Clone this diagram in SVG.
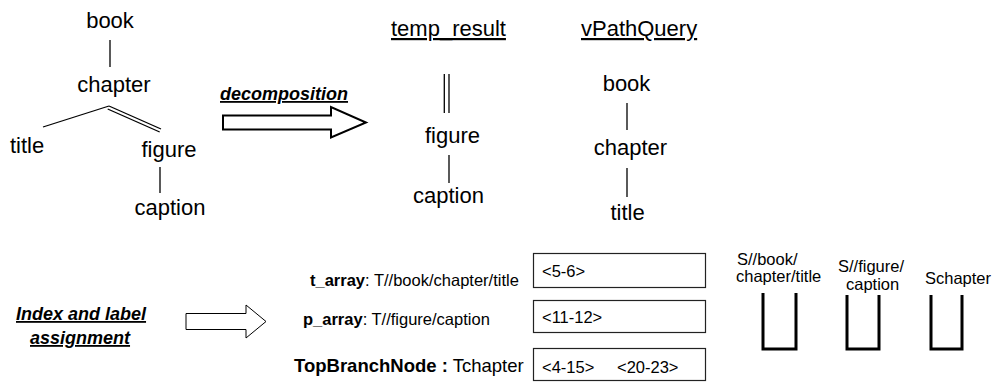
<svg xmlns="http://www.w3.org/2000/svg" width="995" height="382" viewBox="0 0 995 382">
  <style>
    text { font-family: "Liberation Sans", Arial, sans-serif; fill: #000; }
    .n { font-size: 22px; text-anchor: middle; }
    .hd { font-size: 22px; text-decoration: underline; }
    .bi { font-size: 18px; font-weight: bold; font-style: italic; text-decoration: underline; }
    .lbl { font-size: 16.5px; }
    .big { font-size: 18.5px; }
    .b { font-weight: bold; }
    .e { stroke: #000; stroke-width: 1.3; fill: none; }
    .box { fill: #fff; stroke: #222; stroke-width: 1.2; }
    .stack { fill: none; stroke: #000; stroke-width: 3; }
  </style>

  <!-- query tree -->
  <g id="query-tree">
    <text class="n" x="110" y="28">book</text>
    <text class="n" x="114" y="92">chapter</text>
    <text class="n" x="27" y="153">title</text>
    <text class="n" x="169" y="157">figure</text>
    <text class="n" x="170" y="215">caption</text>
  </g>

  <!-- edges -->
  <g id="connectors">
    <line class="e" x1="110" y1="40" x2="110" y2="67"/>
    <line class="e" x1="109" y1="106" x2="43" y2="127"/>
    <line class="e" x1="109" y1="106" x2="161" y2="129"/>
    <line class="e" x1="107.7" y1="109" x2="159.7" y2="132"/>
    <line class="e" x1="160" y1="167" x2="160" y2="193"/>
    <line class="e" x1="444.3" y1="74" x2="444.3" y2="113"/>
    <line class="e" x1="449" y1="74" x2="449" y2="113"/>
    <line class="e" x1="449" y1="155" x2="449" y2="183"/>
    <line class="e" x1="627" y1="103" x2="627" y2="130"/>
    <line class="e" x1="627" y1="168" x2="627" y2="197"/>
  </g>

  <!-- decomposition step -->
  <g id="decomposition">
    <text class="bi" x="220" y="100">decomposition</text>
    <polygon points="223,115.5 331,115.5 331,107 366,122.5 331,137.5 331,129.5 223,129.5" fill="#fff" stroke="#000" stroke-width="2"/>
  </g>

  <!-- temp_result -->
  <g id="temp-result">
    <text class="hd" x="391" y="36">temp_result</text>
    <text class="n" x="452.5" y="143">figure</text>
    <text class="n" x="448.5" y="203">caption</text>
  </g>

  <!-- vPathQuery -->
  <g id="vpath-query">
    <text class="hd" x="581" y="36">vPathQuery</text>
    <text class="n" x="626.5" y="91">book</text>
    <text class="n" x="630.5" y="155">chapter</text>
    <text class="n" x="627.5" y="220">title</text>
  </g>

  <!-- index and label assignment -->
  <g id="assignment">
    <text class="bi" x="16" y="320">Index and label</text>
    <text class="bi" x="30" y="344">assignment</text>
    <polygon points="186,313.5 246,313.5 246,305 266,321.5 246,338 246,329.5 186,329.5" fill="#fff" stroke="#000" stroke-width="1"/>
  </g>

  <!-- arrays -->
  <g id="t-array">
    <text class="lbl" x="310" y="286"><tspan class="b">t_array</tspan>: T//book/chapter/title</text>
    <rect class="box" x="533.5" y="253.5" width="172" height="34"/>
    <text class="lbl" x="542" y="277">&lt;5-6&gt;</text>
  </g>
  <g id="p-array">
    <text class="lbl" x="303" y="325"><tspan class="b">p_array</tspan>: T//figure/caption</text>
    <rect class="box" x="533.5" y="300.5" width="172" height="32"/>
    <text class="lbl" x="542" y="323">&lt;11-12&gt;</text>
  </g>
  <g id="top-branch-node">
    <text class="big" x="294" y="372"><tspan class="b">TopBranchNode :</tspan> Tchapter</text>
    <rect class="box" x="533.5" y="348.5" width="172" height="32"/>
    <text class="lbl" x="542" y="373">&lt;4-15&gt;</text>
    <text class="lbl" x="617" y="373">&lt;20-23&gt;</text>
  </g>

  <!-- stacks -->
  <g id="stack-title">
    <text class="lbl" x="737" y="265">S//book/</text>
    <text class="lbl" x="736" y="282">chapter/title</text>
    <polyline class="stack" points="763,293 763,349 796,349 796,293"/>
  </g>
  <g id="stack-caption">
    <text class="lbl" x="838" y="272">S//figure/</text>
    <text class="lbl" x="846" y="290">caption</text>
    <polyline class="stack" points="847,295 847,349 879,349 879,295"/>
  </g>
  <g id="stack-chapter">
    <text class="lbl" x="925" y="284">Schapter</text>
    <polyline class="stack" points="931,295 931,349 962,349 962,295"/>
  </g>
</svg>
